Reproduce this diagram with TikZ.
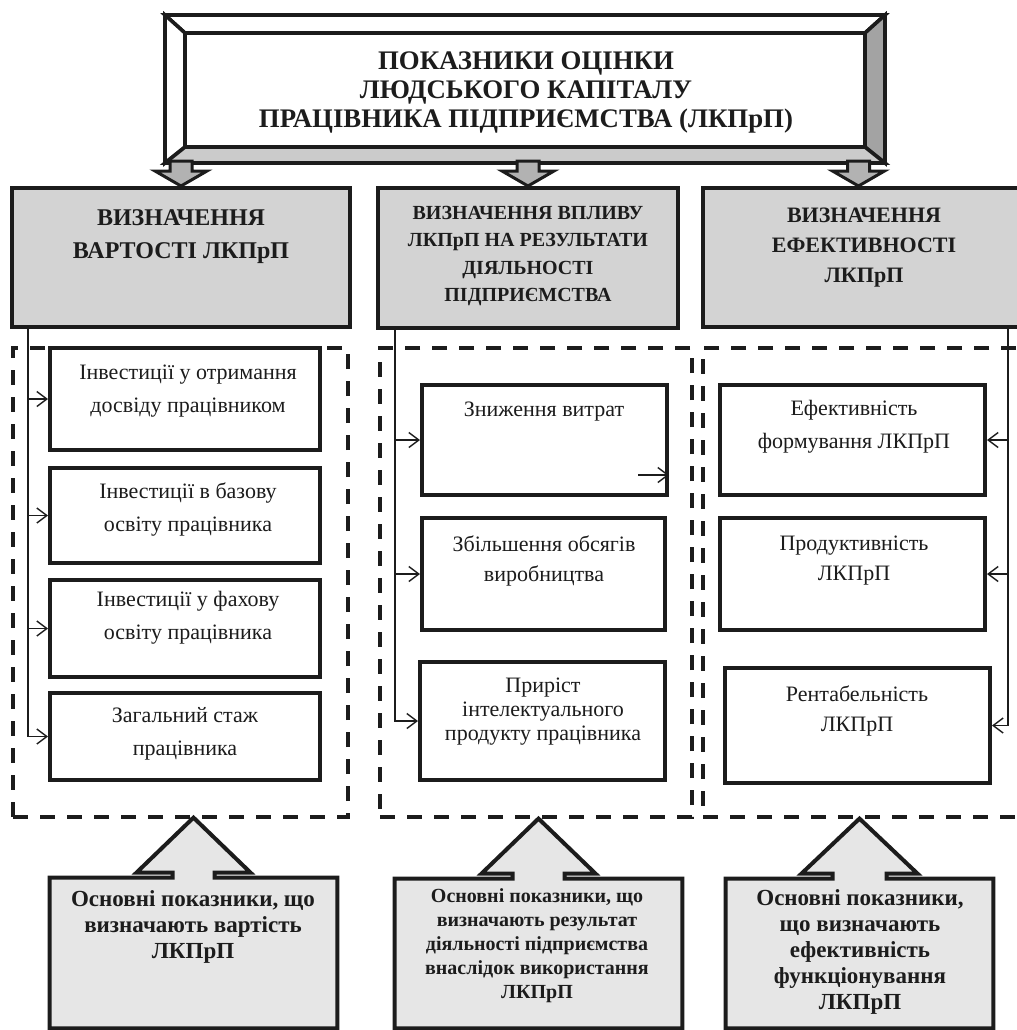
\documentclass[tikz,border=0pt]{standalone}
\usepackage{fontspec}
\setmainfont{Liberation Serif}[BoldFont={Liberation Serif Bold}]
\usetikzlibrary{fit,arrows.meta}
\definecolor{liniia}{HTML}{1C1C1C}
\definecolor{sirashapka}{HTML}{D3D3D3}
\definecolor{pidklad}{HTML}{E6E6E6}
\definecolor{sirastrilka}{HTML}{B2B2B2}
\definecolor{gran}{HTML}{A3A3A3}
\definecolor{granniz}{HTML}{CBCBCB}
\tikzset{
  pole/.style={draw=liniia,line width=2pt,inner sep=0pt,fill=white},
  shapkabox/.style={pole,fill=sirashapka},
  punktyr/.style={draw=liniia,line width=2.4pt,dash pattern=on 7.5pt off 6pt,inner sep=0pt},
  napys/.style={align=center,inner sep=0pt,text=liniia,font=\fontsize{11}{16.5}\selectfont},
  napysshapky/.style={align=center,inner sep=0pt,text=liniia,font=\bfseries\fontsize{12}{16.5}\selectfont},
  napyspidsumku/.style={align=center,inner sep=0pt,text=liniia,font=\bfseries\fontsize{11.5}{13}\selectfont},
  zvyazok/.style={draw=liniia,line width=0.7pt,-{Straight Barb[length=5pt,width=7.5pt]}}
}
\newcommand{\strilkavnyz}[1]{\draw[liniia,line width=1.5pt,line join=miter,fill=sirastrilka] #1 -- ++(-26,-15) -- ++(15,0) -- ++(0,-10) -- ++(22,0) -- ++(0,10) -- ++(15,0) -- cycle;}
\newcommand{\vynoska}[3]{\draw[liniia,line width=2pt,line join=miter,fill=pidklad] (#1.north) ++(-#2,0) -- ++(0,-5) -- ++(#2-#3,0) -- ++(#3,-55) -- ++(#3,55) -- ++(#2-#3,0) -- ++(0,5) -- (#1.north east) -- (#1.south east) -- (#1.south west) -- (#1.north west) -- cycle;}
\begin{document}
\begin{tikzpicture}[x=0.5pt,y=-0.5pt]
  \useasboundingbox (0,0) rectangle (1017,1030);
  \node[punktyr,fit={(13,348) (348,817)}] (konteiner1) {};
  \node[punktyr,fit={(380,348) (692,817)}] (konteiner2) {};
  \node[punktyr,fit={(703,348) (1030,817)}] (konteiner3) {};
  \node[pole,fit={(50,348) (320,450)}] (dosvid) {};
  \node[pole,fit={(50,468) (320,563)}] (baza) {};
  \node[pole,fit={(50,580) (320,677)}] (fakh) {};
  \node[pole,fit={(50,693) (320,780)}] (stazh) {};
  \node[pole,fit={(422,385) (667,495)}] (vytraty) {};
  \node[pole,fit={(422,518) (665,630)}] (obsiahy) {};
  \node[pole,fit={(420,662) (665,780)}] (pryrist) {};
  \node[pole,fit={(720,385) (985,495)}] (formuvannia) {};
  \node[pole,fit={(720,518) (985,630)}] (produktyvnist) {};
  \node[pole,fit={(725,668) (990,783)}] (rentabelnist) {};
  \node[shapkabox,fit={(12,188) (350,327)}] (vartist) {};
  \node[shapkabox,fit={(378,188) (678,328)}] (vplyv) {};
  \node[shapkabox,fit={(703,188) (1022,327)}] (efektyvnist) {};
  \begin{scope}[liniia,line width=1.8pt,line join=miter]
    \filldraw[fill=white] (165,15) -- (885,15) -- (865,33) -- (185,33) -- cycle;
    \filldraw[fill=white] (165,15) -- (185,33) -- (185,147) -- (165,163) -- cycle;
    \filldraw[fill=gran] (885,15) -- (885,163) -- (865,147) -- (865,33) -- cycle;
    \filldraw[fill=granniz] (165,163) -- (885,163) -- (865,147) -- (185,147) -- cycle;
  \end{scope}
  \node[pole,fit={(185,33) (865,147)}] (holovnyi) {};
  \node[align=center,inner sep=0pt,text=liniia,font=\bfseries\fontsize{13.4}{14.5}\selectfont] (tholovnyi) at (526,92) {ПОКАЗНИКИ ОЦІНКИ\\ЛЮДСЬКОГО КАПІТАЛУ\\ПРАЦІВНИКА ПІДПРИЄМСТВА (ЛКПрП)};
  \strilkavnyz{(vartist.north)}
  \strilkavnyz{(vplyv.north)}
  \strilkavnyz{([xshift=-2pt]efektyvnist.north)}
  \coordinate (vertyk1) at (28,327);
  \coordinate (vertyk2) at (395,328);
  \coordinate (vertyk3) at (1008,327);
  \coordinate (zaiva) at (638,475);
  \foreach \punkt in {dosvid,baza,fakh,stazh}
    \draw[zvyazok] (vertyk1) |- (\punkt.west);
  \foreach \punkt in {vytraty,obsiahy,pryrist}
    \draw[zvyazok] (vertyk2) |- (\punkt.west);
  \foreach \punkt in {formuvannia,produktyvnist,rentabelnist}
    \draw[zvyazok] (vertyk3) |- (\punkt.east);
  \draw[zvyazok] (zaiva) -- (vytraty.east |- zaiva);
  \node[fit={(50,878) (337,1028)},inner sep=0pt] (pidsumok1) {};
  \node[fit={(395,879) (682,1028)},inner sep=0pt] (pidsumok2) {};
  \node[fit={(726,879) (993,1028)},inner sep=0pt] (pidsumok3) {};
  \vynoska{pidsumok1}{21}{57}
  \vynoska{pidsumok2}{26}{57}
  \vynoska{pidsumok3}{27}{58}
  \node[napysshapky] (tvartist) at (181,237) {ВИЗНАЧЕННЯ\\ВАРТОСТІ ЛКПрП};
  \node[napysshapky,font=\bfseries\fontsize{10}{13.7}\selectfont] (tvplyv) at (528,256) {ВИЗНАЧЕННЯ ВПЛИВУ\\ЛКПрП НА РЕЗУЛЬТАТИ\\ДІЯЛЬНОСТІ\\ПІДПРИЄМСТВА};
  \node[napysshapky,font=\bfseries\fontsize{11}{15}\selectfont] (tefektyvnist) at (864,248) {ВИЗНАЧЕННЯ\\ЕФЕКТИВНОСТІ\\ЛКПрП};
  \node[napys] (tdosvid) at (188,391) {Інвестиції у отримання\\досвіду працівником};
  \node[napys] (tbaza) at (188,509) {Інвестиції в базову\\освіту працівника};
  \node[napys] (tfakh) at (188,618) {Інвестиції у фахову\\освіту працівника};
  \node[napys] (tstazh) at (185,734) {Загальний стаж\\працівника};
  \node[napys] (tvytraty) at (544,412) {Зниження витрат};
  \node[napys,font=\fontsize{11}{15}\selectfont] (tobsiahy) at (544,561) {Збільшення обсягів\\виробництва};
  \node[napys,font=\fontsize{11}{12}\selectfont] (tpryrist) at (543,712) {Приріст\\інтелектуального\\продукту працівника};
  \node[napys] (tformuvannia) at (854,427) {Ефективність\\формування ЛКПрП};
  \node[napys,font=\fontsize{11}{15}\selectfont] (tproduktyvnist) at (854,561) {Продуктивність\\ЛКПрП};
  \node[napys,font=\fontsize{11}{15}\selectfont] (trentabelnist) at (857,711) {Рентабельність\\ЛКПрП};
  \node[napyspidsumku] (tpidsumok1) at (193,927) {Основні показники, що\\визначають вартість\\ЛКПрП};
  \node[napyspidsumku,font=\bfseries\fontsize{10}{12}\selectfont] (tpidsumok2) at (537,946) {Основні показники, що\\визначають результат\\діяльності підприємства\\внаслідок використання\\ЛКПрП};
  \node[napyspidsumku] (tpidsumok3) at (860,952) {Основні показники,\\що визначають\\ефективність\\функціонування\\ЛКПрП};
\end{tikzpicture}
\end{document}
